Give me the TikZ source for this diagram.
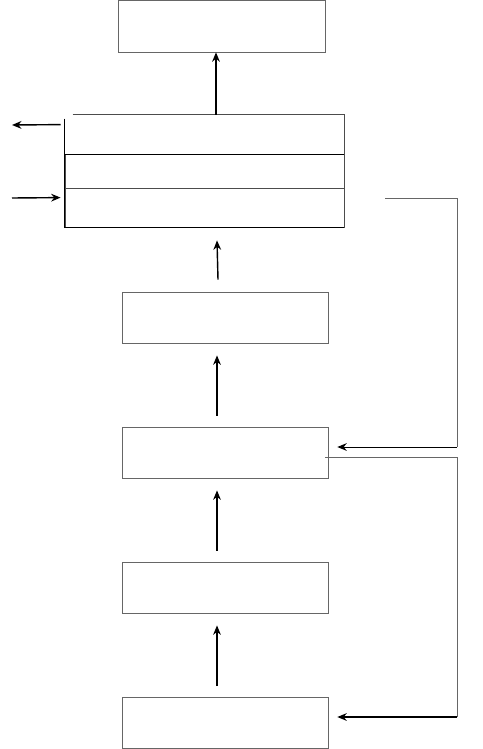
\documentclass[tikz,border=0pt]{standalone}
\usepackage{tikz}
\usetikzlibrary{arrows.meta, positioning, calc}

\begin{document}
\begin{tikzpicture}[
  x=0.035cm, y=-0.035cm,
  stagebox/.style={rectangle, draw=black!60, line width=0.7pt,
    minimum width=7.21cm, minimum height=1.79cm, inner sep=0pt},
  rowbox/.style={rectangle, draw=black!70, line width=0.8pt,
    minimum width=9.765cm, inner sep=0pt},
  arr/.style={-{Stealth[length=3.3mm, width=2.7mm]}, line width=1.4pt, draw=black},
  fb/.style={line width=0.7pt, draw=black!60}
]
\useasboundingbox (0,0) rectangle (483,749);

%% ==== Stages ====
\node[stagebox, minimum width=7.245cm, minimum height=1.82cm] (S0) at (221.5, 26) {};
\node[stagebox] (S2) at (225, 317.5) {};
\node[stagebox] (S3) at (225, 452.5) {};
\node[stagebox] (S4) at (225, 587.5) {};
\node[stagebox] (S5) at (225, 723) {};

%% ==== Stacked block ====
\node[rowbox, draw=none, minimum height=1.365cm] (R1) at (204.5, 134.5) {};
\node[rowbox, minimum height=1.19cm]  (R2) at (204.5, 171) {};
\node[rowbox, minimum height=1.365cm] (R3) at (204.5, 207.5) {};
\draw[draw=black!70, line width=0.8pt] ($(R1.north west)+(8,0)$) -- (R1.north east) -- (R1.south east);
\draw[line width=1pt] (R1.south west) -- (R1.south east);
\draw[line width=1pt] ($(R1.north west)+(0,4)$) -- (R3.south west) -- (R3.south east);

%% ==== Upward arrows ====
\draw[arr] ($(R1.north -| S0)+(-5.5,0)$) -- ($(S0.south)+(-5.5,0)$);
\draw[arr] ($(S2.north)+(-7,-12)$) -- ($(R3.south -| S2.north)+(-8,13)$);
\foreach \a/\b in {S3/S2, S4/S3, S5/S4}
  \draw[arr] ($(\a.north)+(-8,-11)$) -- ($(\b.south)+(-8,12)$);

%% ==== Side arrows ====
\coordinate (out) at (12, 125);
\coordinate (in)  at (12, 198);
\draw[arr] ($(R1.north west)+(-4,10)$) -- (out);
\draw[arr] (in) -- ($(R3.north west)+(-4,10)$);

%% ==== Feedback lines ====
\coordinate (fbA) at (385, 198);
\draw[fb] (fbA) -- (457, 198) -- (457, 447);
\draw[arr, line width=1pt] (457, 447) -- ($(S3.east)+(9,-5.5)$);
\draw[fb] ($(S3.east)+(-3,4.5)$) -- (457, 457) -- (457, 717);
\draw[arr, line width=1.2pt] (457, 717) -- ($(S5.east)+(9,-6)$);

\end{tikzpicture}
\end{document}
